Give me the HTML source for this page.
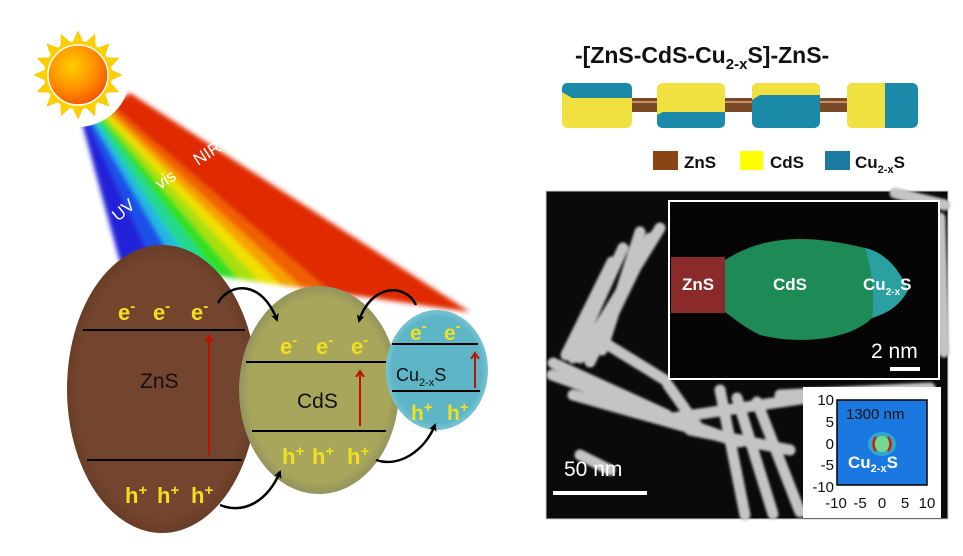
<!DOCTYPE html>
<html><head><meta charset="utf-8"><style>
html,body{margin:0;padding:0;background:#fff;}
svg{display:block;font-family:"Liberation Sans",Arial,sans-serif;}
</style></head><body>
<svg width="963" height="556" viewBox="0 0 963 556" xmlns="http://www.w3.org/2000/svg">
<defs>
<filter id="bl" x="-10%" y="-10%" width="120%" height="120%"><feGaussianBlur stdDeviation="2.5"/></filter>
<filter id="bl1"><feGaussianBlur stdDeviation="1.2"/></filter>
<radialGradient id="sun" cx="0.4" cy="0.35" r="0.7"><stop offset="0" stop-color="#ffd000"/><stop offset="0.6" stop-color="#ff8a00"/><stop offset="1" stop-color="#f05000"/></radialGradient>
<radialGradient id="zns" cx="0.5" cy="0.5" r="0.55"><stop offset="0.8" stop-color="#74452e"/><stop offset="1" stop-color="#5e3622"/></radialGradient>
<radialGradient id="cds" cx="0.5" cy="0.5" r="0.55"><stop offset="0.8" stop-color="#a8a65a"/><stop offset="0.95" stop-color="#8c8c60"/><stop offset="1" stop-color="#c0c0b0"/></radialGradient>
<radialGradient id="cu" cx="0.5" cy="0.5" r="0.55"><stop offset="0.8" stop-color="#5db5c6"/><stop offset="1" stop-color="#8fd0dc"/></radialGradient>
<marker id="ah" markerWidth="8" markerHeight="8" refX="6" refY="4" orient="auto" markerUnits="userSpaceOnUse"><path d="M0,0 L8,4 L0,8 L2,4z" fill="#000"/></marker>
<marker id="rh" markerWidth="10" markerHeight="10" refX="5" refY="5" orient="auto" markerUnits="userSpaceOnUse"><path d="M0,1 L6,5 L0,9" fill="none" stroke="#c01000" stroke-width="2"/></marker>
</defs>

<!-- beam -->
<g filter="url(#bl)">
<polygon points="82,123 86.8,120 155,267 120,262" fill="#2020d8"/>
<polygon points="86.8,120 90.2,117.9 179.5,270.5 155,267" fill="#1a50ea"/>
<polygon points="90.2,117.9 92.6,116.4 197,273 179.5,270.5" fill="#20b8e0"/>
<polygon points="92.6,116.4 95.4,114.6 218,276 197,273" fill="#20d890"/>
<polygon points="95.4,114.6 98.3,112.8 239,279 218,276" fill="#30e020"/>
<polygon points="98.3,112.8 101.2,111 260,282 239,279" fill="#a8e010"/>
<polygon points="101.2,111 104.1,109.2 281,285 260,282" fill="#f0e000"/>
<polygon points="104.1,109.2 107,107.4 302,288 281,285" fill="#f8a000"/>
<polygon points="107,107.4 110.8,105 330,292 302,288" fill="#f06000"/>
<polygon points="110.8,105 130,93 470,312 330,292" fill="#e02a00"/>
</g>
<text font-size="17" fill="#fff" transform="translate(118,222) rotate(-40)">UV</text>
<text font-size="17" fill="#fff" transform="translate(160,190) rotate(-33)">vis</text>
<text font-size="17" fill="#fff" transform="translate(198,166) rotate(-33)">NIR</text>

<!-- sun -->
<circle cx="78" cy="75" r="52" fill="#fff"/>
<g fill="#ffd000" stroke="#f5b800" stroke-width="0.5">
<polygon points="78,31 83,42 73,42" transform="rotate(0 78 75)"/>
<polygon points="78,31 83,42 73,42" transform="rotate(22.5 78 75)"/>
<polygon points="78,31 83,42 73,42" transform="rotate(45 78 75)"/>
<polygon points="78,31 83,42 73,42" transform="rotate(67.5 78 75)"/>
<polygon points="78,31 83,42 73,42" transform="rotate(90 78 75)"/>
<polygon points="78,31 83,42 73,42" transform="rotate(112.5 78 75)"/>
<polygon points="78,31 83,42 73,42" transform="rotate(135 78 75)"/>
<polygon points="78,31 83,42 73,42" transform="rotate(157.5 78 75)"/>
<polygon points="78,31 83,42 73,42" transform="rotate(180 78 75)"/>
<polygon points="78,31 83,42 73,42" transform="rotate(202.5 78 75)"/>
<polygon points="78,31 83,42 73,42" transform="rotate(225 78 75)"/>
<polygon points="78,31 83,42 73,42" transform="rotate(247.5 78 75)"/>
<polygon points="78,31 83,42 73,42" transform="rotate(270 78 75)"/>
<polygon points="78,31 83,42 73,42" transform="rotate(292.5 78 75)"/>
<polygon points="78,31 83,42 73,42" transform="rotate(315 78 75)"/>
<polygon points="78,31 83,42 73,42" transform="rotate(337.5 78 75)"/>
</g>
<circle cx="78" cy="75" r="34" fill="#ffd000"/>
<circle cx="78" cy="75" r="30" fill="url(#sun)" stroke="#fff" stroke-width="1.5"/>

<!-- ZnS -->
<ellipse cx="162" cy="389" rx="95" ry="144" fill="url(#zns)"/>
<line x1="83" y1="330" x2="245" y2="330" stroke="#000" stroke-width="2"/>
<line x1="87" y1="460" x2="242" y2="460" stroke="#000" stroke-width="2"/>
<g fill="#f0e020" font-size="22" font-weight="bold">
<text x="118" y="320">e<tspan font-size="15" dy="-9">-</tspan></text>
<text x="153" y="320">e<tspan font-size="15" dy="-9">-</tspan></text>
<text x="191" y="320">e<tspan font-size="15" dy="-9">-</tspan></text>
<text x="125" y="503">h<tspan font-size="15" dy="-8">+</tspan></text>
<text x="157" y="503">h<tspan font-size="15" dy="-8">+</tspan></text>
<text x="191" y="503">h<tspan font-size="15" dy="-8">+</tspan></text>
</g>
<text x="140" y="388" font-size="21" fill="#111">ZnS</text>
<line x1="209" y1="455" x2="209" y2="337" stroke="#c01000" stroke-width="2" marker-end="url(#rh)"/>

<!-- CdS -->
<ellipse cx="319" cy="390" rx="80" ry="104" fill="url(#cds)"/>
<line x1="246" y1="362" x2="386" y2="362" stroke="#000" stroke-width="2"/>
<line x1="252" y1="431" x2="386" y2="431" stroke="#000" stroke-width="2"/>
<g fill="#f0e020" font-size="22" font-weight="bold">
<text x="280" y="354">e<tspan font-size="15" dy="-9">-</tspan></text>
<text x="316" y="354">e<tspan font-size="15" dy="-9">-</tspan></text>
<text x="351" y="354">e<tspan font-size="15" dy="-9">-</tspan></text>
<text x="282" y="464">h<tspan font-size="15" dy="-8">+</tspan></text>
<text x="312" y="464">h<tspan font-size="15" dy="-8">+</tspan></text>
<text x="347" y="464">h<tspan font-size="15" dy="-8">+</tspan></text>
</g>
<text x="297" y="408" font-size="21" fill="#111">CdS</text>
<line x1="360" y1="426" x2="360" y2="372" stroke="#c01000" stroke-width="2" marker-end="url(#rh)"/>

<!-- Cu2-xS -->
<ellipse cx="437" cy="370" rx="51" ry="60" fill="url(#cu)"/>
<line x1="392" y1="344" x2="478" y2="344" stroke="#000" stroke-width="2"/>
<line x1="392" y1="391" x2="480" y2="391" stroke="#000" stroke-width="2"/>
<g fill="#f0e020" font-size="21" font-weight="bold">
<text x="410" y="340">e<tspan font-size="15" dy="-9">-</tspan></text>
<text x="444" y="340">e<tspan font-size="15" dy="-9">-</tspan></text>
<text x="411" y="420">h<tspan font-size="15" dy="-8">+</tspan></text>
<text x="447" y="420">h<tspan font-size="15" dy="-8">+</tspan></text>
</g>
<text x="396" y="381" font-size="18" fill="#111">Cu<tspan font-size="11" dy="5">2-x</tspan><tspan dy="-5">S</tspan></text>
<line x1="475" y1="388" x2="475" y2="354" stroke="#c01000" stroke-width="2" marker-end="url(#rh)"/>

<!-- transfer arrows -->
<g fill="none" stroke="#000" stroke-width="2.5" marker-end="url(#ah)">
<path d="M218,303 C230,282 262,280 277,320"/>
<path d="M416,305 C405,282 370,285 359,321"/>
<path d="M220,505 C245,515 268,500 280,472"/>
<path d="M376,460 C400,468 425,450 435,425"/>
</g>

<!-- Right top -->
<text x="575" y="63" font-size="23" font-weight="bold" fill="#111">-[ZnS-CdS-Cu<tspan font-size="15" dy="6">2-x</tspan><tspan dy="-6">S]-ZnS-</tspan></text>
<g>
<rect x="625" y="98" width="40" height="14" fill="#7a4a25"/>
<rect x="720" y="98" width="40" height="14" fill="#7a4a25"/>
<rect x="815" y="98" width="40" height="14" fill="#7a4a25"/>
<line x1="625" y1="102" x2="855" y2="102" stroke="#c89068" stroke-width="2"/>
<rect x="562" y="83" width="70" height="45" rx="6" fill="#f0e040"/>
<path d="M562,89 Q562,83 568,83 L626,83 Q632,83 632,89 L632,98 L572,98 L562,92z" fill="#1a8aa8"/>
<rect x="657" y="83" width="68" height="45" rx="6" fill="#f0e040"/>
<path d="M657,115 L663,112 L725,112 L725,122 Q725,128 719,128 L663,128 Q657,128 657,122z" fill="#1a8aa8"/>
<rect x="752" y="83" width="68" height="45" rx="6" fill="#1a8aa8"/>
<path d="M752,89 Q752,83 758,83 L814,83 Q820,83 820,89 L820,95 L760,95 L752,100z" fill="#f0e040"/>
<rect x="847" y="83" width="71" height="45" rx="6" fill="#1a8aa8"/>
<path d="M853,83 L885,83 L885,128 L853,128 Q847,128 847,122 L847,89 Q847,83 853,83z" fill="#f0e040"/>
</g>
<rect x="653" y="151" width="25" height="19" fill="#8b4513"/>
<text x="684" y="168" font-size="17" font-weight="bold" fill="#111">ZnS</text>
<rect x="740" y="151" width="23" height="19" fill="#ffff00"/>
<text x="770" y="168" font-size="17" font-weight="bold" fill="#111">CdS</text>
<rect x="825" y="151" width="25" height="19" fill="#1a7aa0"/>
<text x="855" y="168" font-size="17" font-weight="bold" fill="#111">Cu<tspan font-size="11" dy="5">2-x</tspan><tspan dy="-5">S</tspan></text>

<!-- TEM -->
<rect x="546" y="191" width="402" height="328" fill="#0a0a0a" stroke="#ccc" stroke-width="1"/>
<g stroke="#c4c4c4" stroke-width="11" stroke-linecap="round" fill="none" filter="url(#bl1)">
<line x1="660" y1="228" x2="580" y2="358"/>
<line x1="623" y1="248" x2="573" y2="358"/>
<line x1="650" y1="238" x2="590" y2="362"/>
<line x1="640" y1="232" x2="602" y2="350"/>
<line x1="612" y1="262" x2="566" y2="355"/>
<line x1="552" y1="375" x2="727" y2="438"/>
<line x1="553" y1="363" x2="667" y2="415"/>
<line x1="573" y1="395" x2="740" y2="442"/>
<line x1="737" y1="398" x2="773" y2="514"/>
<line x1="757" y1="402" x2="800" y2="512"/>
<line x1="673" y1="418" x2="807" y2="398"/>
<line x1="720" y1="390" x2="745" y2="515"/>
<line x1="690" y1="430" x2="790" y2="450"/>
<line x1="940" y1="218" x2="944" y2="352"/>
<line x1="895" y1="193" x2="945" y2="205"/>
<line x1="600" y1="340" x2="665" y2="380"/>
<line x1="668" y1="385" x2="700" y2="430"/>
<line x1="580" y1="455" x2="610" y2="470"/>
<line x1="780" y1="395" x2="930" y2="388"/>
</g>
<rect x="669" y="201" width="270" height="178" fill="#050505" stroke="#fff" stroke-width="2"/>
<rect x="671" y="257" width="54" height="56" fill="#8a2a2a"/>
<path d="M725,260 C760,238 800,232 865,248 L880,255 C895,270 905,280 908,290 C900,305 890,312 872,318 C850,340 800,345 760,335 C740,325 730,315 725,312z" fill="#1e8a55"/>
<path d="M865,248 C885,252 900,270 908,290 C900,305 890,312 872,318 C875,295 872,270 865,248z" fill="#2aa0a0"/>
<text x="698" y="290" font-size="17" font-weight="bold" fill="#fff" text-anchor="middle">ZnS</text>
<text x="790" y="290" font-size="17" font-weight="bold" fill="#fff" text-anchor="middle">CdS</text>
<text x="863" y="290" font-size="17" font-weight="bold" fill="#fff">Cu<tspan font-size="10" dy="5">2-x</tspan><tspan dy="-5">S</tspan></text>
<text x="871" y="358" font-size="21" fill="#fff">2 nm</text>
<rect x="890" y="367" width="30" height="4" fill="#fff"/>
<text x="564" y="476" font-size="21" fill="#fff">50 nm</text>
<rect x="553" y="491" width="94" height="4" fill="#fff"/>

<!-- plot inset -->
<rect x="803" y="387" width="138" height="131" fill="#fff"/>
<rect x="837" y="400" width="90" height="85" fill="#1a78e0" stroke="#000" stroke-width="1.5"/>
<ellipse cx="882" cy="444" rx="14" ry="12" fill="#40c8c0" opacity="0.6"/>
<circle cx="882" cy="444" r="8" fill="#70d890"/>
<path d="M876,437 Q871,444 876,451" fill="none" stroke="#d02000" stroke-width="2.5"/>
<path d="M888,437 Q893,444 888,451" fill="none" stroke="#d02000" stroke-width="2.5"/>
<text x="846" y="419" font-size="15" fill="#111">1300 nm</text>
<text x="848" y="468" font-size="17" font-weight="bold" fill="#fff">Cu<tspan font-size="11" dy="4">2-x</tspan><tspan dy="-4">S</tspan></text>
<g font-size="15" fill="#111" text-anchor="end">
<text x="834" y="405">10</text><text x="834" y="427">5</text><text x="834" y="449">0</text><text x="834" y="470">-5</text><text x="834" y="492">-10</text>
</g>
<g font-size="15" fill="#111" text-anchor="middle">
<text x="836" y="508">-10</text><text x="860" y="508">-5</text><text x="882" y="508">0</text><text x="905" y="508">5</text><text x="927" y="508">10</text>
</g>
</svg>
</body></html>
